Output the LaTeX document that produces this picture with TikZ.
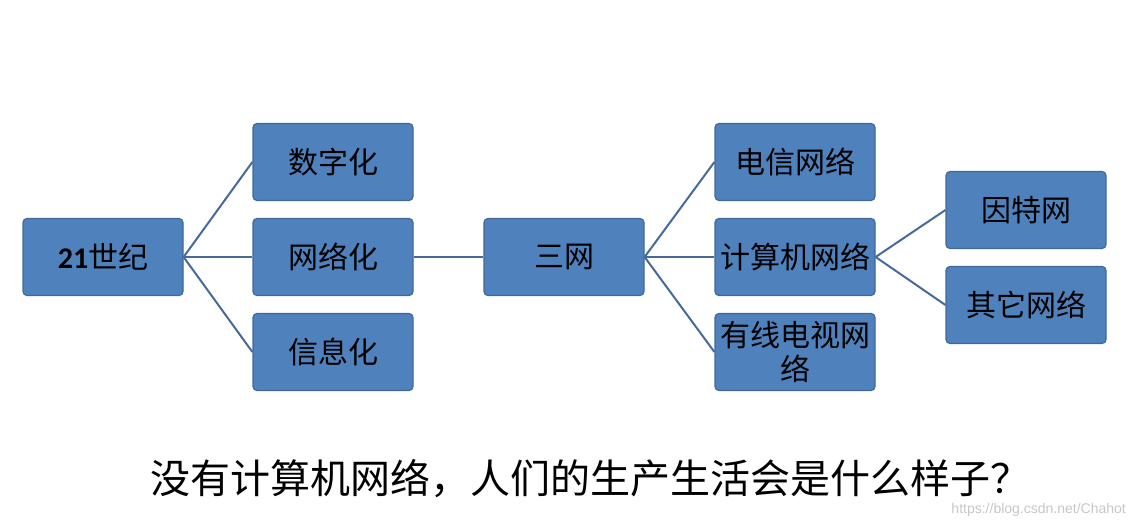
\documentclass[tikz,border=0pt]{standalone}
\usepackage{fontspec}
\setmainfont{Noto Sans CJK SC}
\newfontfamily\numfont{Carlito}
\newfontfamily\markfont{Liberation Sans}
\usetikzlibrary{positioning}
\definecolor{boxfill}{HTML}{4F81BD}
\definecolor{boxline}{HTML}{40699A}
\definecolor{linkline}{HTML}{466B9B}
\begin{document}
\begin{tikzpicture}[
        x=1pt, y=-1pt,
        every node/.style={inner sep=0pt},
        box/.style={rectangle, rounded corners=4pt, draw=boxline, line width=1.2pt,
            fill=boxfill, minimum width=160pt, minimum height=77pt,
            align=center, font=\fontsize{30}{34}\selectfont},
        link/.style={draw=linkline, line width=2pt},
        note/.style={font=\fontsize{40}{46}\selectfont}
    ]
        \useasboundingbox[fill=white] (0,0) rectangle (1131,526);

        % 三列框, 按像素位置
        \path
            (103,257)  node[box] (c21)  {{\numfont\bfseries 21}世纪}
            (333,162)  node[box] (dig)  {数字化}
            (333,257)  node[box] (net)  {网络化}
            (333,352)  node[box] (info) {信息化}
            (564,257)  node[box] (three) {三网}
            (795,162)  node[box] (tele) {电信网络}
            (795,257)  node[box] (comp) {计算机网络}
            (795,352)  node[box] (cable) {有线电视网\\络}
            (1026,210) node[box] (inet) {因特网}
            (1026,305) node[box] (other) {其它网络};

        % 连线
        \draw[link] (c21.east) -- (dig.west);
        \draw[link] (c21.east) -- (net.west);
        \draw[link] (c21.east) -- (info.west);
        \draw[link] (net.east) -- (three.west);
        \draw[link] (three.east) -- (tele.west);
        \draw[link] (three.east) -- (comp.west);
        \draw[link] (three.east) -- (cable.west);
        \draw[link] (comp.east) -- (inet.west);
        \draw[link] (comp.east) -- (other.west);

        % 底部问题
        \node[note] (ask) at (590,479) {没有计算机网络，人们的生产生活会是什么样子？};
        \node[anchor=east, font=\markfont\fontsize{14}{16}\selectfont, text=black!22] (mark) at (1126,510) {https://blog.csdn.net/Chahot};
    \end{tikzpicture}
\end{document}
